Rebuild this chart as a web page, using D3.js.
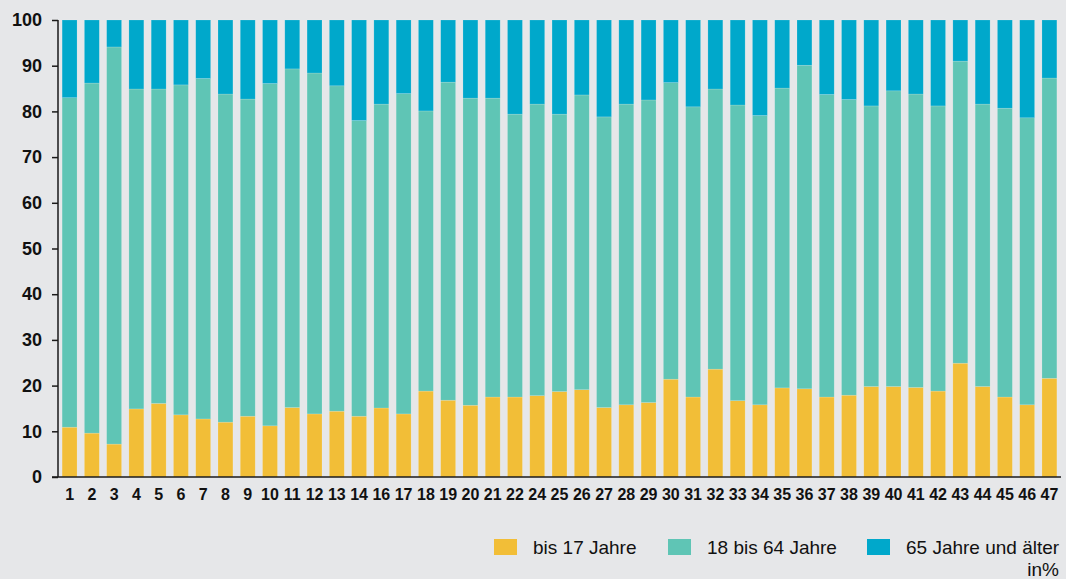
<!DOCTYPE html>
<html>
<head>
<meta charset="utf-8">
<script src="https://cdn.jsdelivr.net/npm/d3@7"></script>
<style>
  body { margin: 0; background: #e6e7e9; }
  .canvas svg { display: block; }
</style>
</head>
<body>
<div class="canvas"></div>
<script>
// region numbers (15 and 23 are missing in the original)
const categories = ['1','2','3','4','5','6','7','8','9','10','11','12','13','14','16','17','18','19','20','21','22',
  '24','25','26','27','28','29','30','31','32','33','34','35','36','37','38','39','40','41','42','43','44','45','46','47'];

// shares in %
const bis17 = [10.9, 9.6, 7.2, 14.9, 16.1, 13.6, 12.7, 12.0, 13.3, 11.2, 15.2, 13.8, 14.4, 13.3, 15.1, 13.8, 18.8, 16.8, 15.7, 17.5, 17.5,
  17.8, 18.7, 19.1, 15.2, 15.8, 16.3, 21.4, 17.5, 23.6, 16.7, 15.8, 19.5, 19.3, 17.5, 17.9, 19.8, 19.8, 19.6, 18.8, 24.9, 19.8, 17.5, 15.8, 21.6];
const bis64 = [72.1, 76.6, 86.9, 70.0, 68.8, 72.2, 74.5, 71.8, 69.4, 74.9, 74.1, 74.6, 71.2, 64.7, 66.5, 70.1, 61.3, 69.6, 67.2, 65.4, 61.9,
  63.8, 60.7, 64.5, 63.6, 65.8, 66.2, 64.9, 63.5, 61.3, 64.7, 63.3, 65.6, 70.8, 66.2, 64.7, 61.4, 64.7, 64.2, 62.4, 66.1, 61.8, 63.2, 62.8, 65.7];
const ab65 = [17.0, 13.8, 5.9, 15.1, 15.1, 14.2, 12.8, 16.2, 17.3, 13.9, 10.7, 11.6, 14.4, 22.0, 18.4, 16.1, 19.9, 13.6, 17.1, 17.1, 20.6,
  18.4, 20.6, 16.4, 21.2, 18.4, 17.5, 13.7, 19.0, 15.1, 18.6, 20.9, 14.9, 9.9, 16.3, 17.4, 18.8, 15.5, 16.2, 18.8, 9.0, 18.4, 19.3, 21.4, 12.7];

const seriesKeys = ['bis17', 'bis64', 'ab65'];
const seriesNames = ['bis 17 Jahre', '18 bis 64 Jahre', '65 Jahre und älter'];
const yTicks = [0, 10, 20, 30, 40, 50, 60, 70, 80, 90, 100];

const colors = ['#f2be37', '#5fc5b5', '#00a8cb'];

const rows = categories.map((c, i) => ({ cat: c, bis17: bis17[i], bis64: bis64[i], ab65: ab65[i] }));
const stacked = d3.stack().keys(seriesKeys)(rows);

const width = 1066, height = 579;
const svg = d3.select('.canvas').append('svg')
    .attr('width', width)
    .attr('height', height)
    .style('font-family', 'Arial, "Liberation Sans", Helvetica, sans-serif');

svg.append('rect')
    .attr('width', width)
    .attr('height', height)
    .attr('fill', '#e6e7e9');

const x = d3.scaleBand()
    .domain(categories)
    .range([58, 1061])
    .paddingInner(0.33)
    .paddingOuter(0.185);

const y = d3.scaleLinear()
    .domain([0, 100])
    .range([477, 20]);

// bars
svg.append('g')
  .selectAll('g')
  .data(stacked)
  .join('g')
    .attr('fill', (d, i) => colors[i])
  .selectAll('rect')
  .data(d => d)
  .join('rect')
    .attr('x', d => x(d.data.cat))
    .attr('width', x.bandwidth())
    .attr('y', d => y(d[1]))
    .attr('height', d => y(d[0]) - y(d[1]))
    .attr('stroke', 'rgba(255,255,255,0.25)')
    .attr('stroke-width', 0.6);

// y axis
const yAxis = svg.append('g')
    .attr('transform', 'translate(58,0)')
    .call(d3.axisLeft(y).tickValues(yTicks).tickSize(6).tickPadding(10));
yAxis.select('.domain').attr('stroke', '#1a1a1a').attr('stroke-width', 1.5).attr('d', 'M0,20V477');
yAxis.selectAll('.tick line').attr('stroke', '#1a1a1a').attr('stroke-width', 1.5);
yAxis.selectAll('.tick text')
    .attr('fill', '#111')
    .style('font-size', '18px')
    .style('font-weight', 'bold')
    .style('font-family', 'Arial, "Liberation Sans", sans-serif');

// x axis
const xAxis = svg.append('g')
    .attr('transform', 'translate(0,477)')
    .call(d3.axisBottom(x).tickSize(0).tickPadding(12));
xAxis.select('.domain').attr('stroke', '#1a1a1a').attr('stroke-width', 1.5).attr('d', 'M52,0H1061');
xAxis.selectAll('.tick text')
    .attr('fill', '#111')
    .style('font-size', '16px')
    .style('font-weight', 'bold')
    .style('font-family', 'Arial, "Liberation Sans", sans-serif');

// legend
const legendX = [494, 668, 867];
const legend = svg.append('g')
  .selectAll('g')
  .data(seriesNames)
  .join('g')
    .attr('transform', (d, i) => `translate(${legendX[i]},539)`);

legend.append('rect')
    .attr('width', 23)
    .attr('height', 16)
    .attr('fill', (d, i) => colors[i]);

legend.append('text')
    .attr('x', 39)
    .attr('y', 14.5)
    .attr('fill', '#111')
    .style('font-size', '19px')
    .text(d => d);

svg.append('text')
    .attr('x', 1059)
    .attr('y', 576)
    .attr('text-anchor', 'end')
    .attr('fill', '#111')
    .style('font-size', '19px')
    .text('in%');
</script>
</body>
</html>
